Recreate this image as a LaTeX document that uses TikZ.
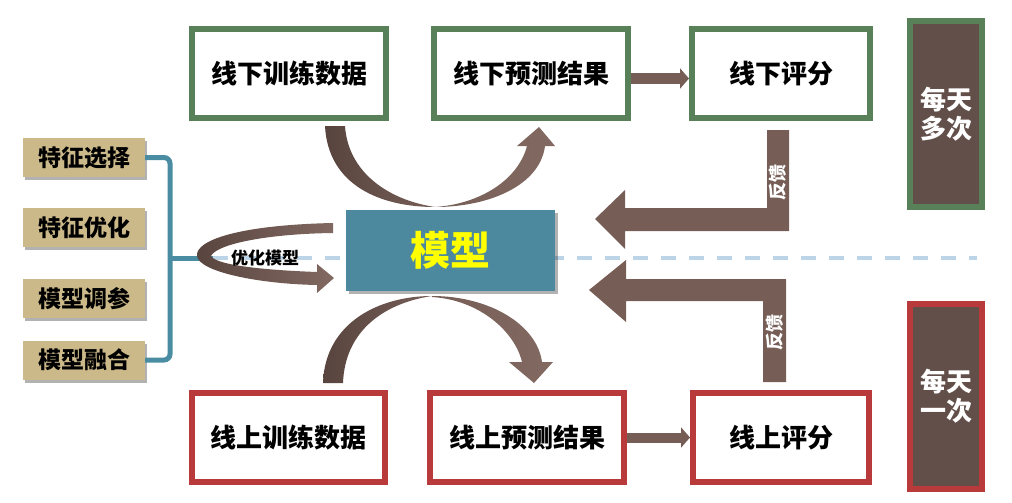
\documentclass[tikz,border=0pt]{standalone}
\usepackage{fontspec}
\setmainfont{Noto Sans CJK SC}
\usetikzlibrary{arrows.meta,shadows}
\definecolor{gboxc}{RGB}{89,129,89}
\definecolor{rboxc}{RGB}{184,58,58}
\definecolor{darkfill}{RGB}{98,79,73}
\definecolor{brM}{RGB}{118,94,87}
\definecolor{brD}{RGB}{88,68,62}
\definecolor{brL}{RGB}{130,106,98}
\definecolor{modelc}{RGB}{76,137,158}
\definecolor{tanc}{RGB}{204,185,138}
\definecolor{brkc}{RGB}{74,140,162}
\definecolor{dashc}{RGB}{188,212,232}
\definecolor{txtyellow}{RGB}{255,255,0}
\begin{document}
\begin{tikzpicture}[x=1pt,y=-1pt,
  flowbox/.style={line width=6pt, fill=white, inner sep=0pt, minimum height=89pt,
    font=\bfseries\fontsize{26}{28}\selectfont},
  gbox/.style={flowbox, draw=gboxc},
  rbox/.style={flowbox, draw=rboxc},
  freqbox/.style={line width=6pt, fill=darkfill, inner sep=0pt, minimum width=72pt,
    text=white, align=center, font=\bfseries\fontsize{26}{29}\selectfont},
  leftbox/.style={fill=tanc, inner sep=0pt, minimum width=122pt, minimum height=39pt,
    font=\bfseries\fontsize{23}{25}\selectfont,
    drop shadow={shadow xshift=2pt, shadow yshift=-3pt, fill=black, opacity=0.3}},
  modelbox/.style={fill=modelc, inner sep=0pt, minimum width=209pt, minimum height=81pt,
    text=txtyellow, font=\bfseries\fontsize{40}{44}\selectfont,
    drop shadow={shadow xshift=3pt, shadow yshift=-3pt, fill=black, opacity=0.3}},
  flowarrow/.style={draw=brM, line width=10pt, -{Triangle[width=20pt,length=9pt]}},
  bracket/.style={draw=brkc, line width=5pt, rounded corners=6pt},
  dashline/.style={draw=dashc, line width=4pt, dash pattern=on 15pt off 13pt},
  fbtext/.style={text=white, rotate=90, font=\bfseries\fontsize{18}{20}\selectfont},
  opttext/.style={font=\bfseries\fontsize{17}{19}\selectfont}
]
\useasboundingbox (0,0) rectangle (1012,503);

% dashed separator
\draw[dashline] (213,258) -- (977,258);

% top row
\node[gbox, minimum width=194pt] (tr1) at (289,73.5) {线下训练数据};
\node[gbox, minimum width=194pt] (tr2) at (531,73.5) {线下预测结果};
\node[gbox, minimum width=178pt] (tr3) at (781,73.5) {线下评分};
% bottom row
\node[rbox, minimum width=193pt] (br1) at (288.5,437.5) {线上训练数据};
\node[rbox, minimum width=194pt] (br2) at (527,437.5) {线上预测结果};
\node[rbox, minimum width=176pt] (br3) at (781,437.5) {线上评分};
% frequency boxes
\node[freqbox, draw=gboxc, minimum height=186pt] (r1) at (946,114) {每天\\多次};
\node[freqbox, draw=rboxc, minimum height=185pt] (r2) at (946,396.5) {每天\\一次};

% left boxes
\node[leftbox] (l1) at (84,157.5) {特征选择};
\node[leftbox] (l2) at (84,227.5) {特征优化};
\node[leftbox] (l3) at (84,298.5) {模型调参};
\node[leftbox] (l4) at (84,360) {模型融合};

% bracket
\draw[bracket] (l1.east) -- (170,157.5) -- (170,360) -- (l4.east);
\draw[bracket, rounded corners=0pt] (170,258) -- (213,258);

% model
\node[modelbox] (model) at (450.5,250.5) {模型};

% straight arrows
\draw[flowarrow] ([yshift=-5pt]tr2.east) -- ([yshift=-5pt]tr3.west);
\draw[flowarrow] (br2.east) -- (br3.west);

% top curved arrows
\shade[left color=brD, right color=brM]
  (325,126) .. controls (328,185) and (380,207) .. (435,207)
  .. controls (388,200) and (348,172) .. (345,126) -- cycle;
\shade[left color=brM, right color=brL]
  (435,207) .. controls (490,207) and (540,185) .. (545,146)
  -- (555,146) -- (539,127) -- (517,146) -- (527,146)
  .. controls (518,180) and (480,204) .. (435,207) -- cycle;

% bottom curved arrows
\shade[left color=brD, right color=brM]
  (323,383) .. controls (325,322) and (380,296) .. (432,296)
  .. controls (385,303) and (345,330) .. (343,383) -- cycle;
\shade[left color=brM, right color=brL]
  (432,296) .. controls (490,296) and (537,325) .. (542,362)
  -- (553,362) -- (534,383) -- (509,362) -- (522,362)
  .. controls (515,332) and (480,300) .. (432,297) -- cycle;

% optimize loop arrow
\shade[left color=brD, right color=brL]
  (333,223) .. controls (240,225) and (195,240) .. (197,256)
  .. controls (199,272) and (260,284) .. (317,285)
  -- (317,293) -- (334,278) -- (317,264) -- (317,272)
  .. controls (262,270) and (216,265) .. (211,256)
  .. controls (216,245) and (262,234) .. (333,233) -- cycle;
\node[opttext] (opt) at (265,258) {优化模型};

% feedback arrows
\fill[brM] (789,130) -- (789,231) -- (625,231) -- (625,249) -- (595,219)
  -- (625,190) -- (625,208) -- (767,208) -- (767,130) -- cycle;
\fill[brM] (786,382) -- (786,279) -- (626,279) -- (626,260) -- (589,290)
  -- (626,322) -- (626,301) -- (763,301) -- (763,382) -- cycle;
\node[fbtext] (fb1) at (778,182) {反馈};
\node[fbtext] (fb2) at (775,332) {反馈};
\end{tikzpicture}
\end{document}
